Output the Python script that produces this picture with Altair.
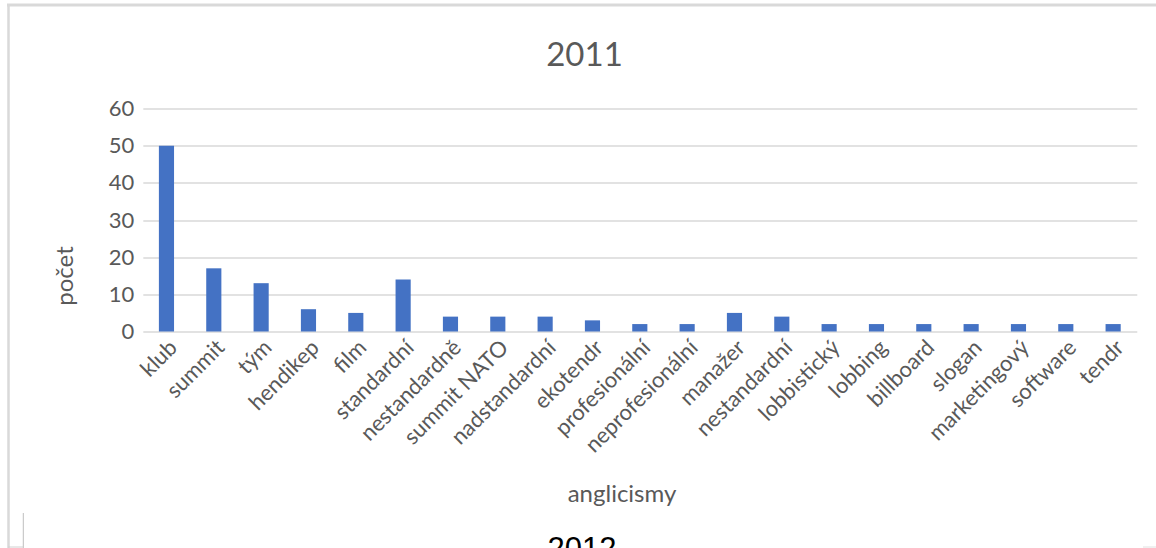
import altair as alt
import pandas as pd

# Word counts for 2011
words = [
    "klub", "summit", "tým", "hendikep", "film", "standardní", "nestandardně",
    "summit NATO", "nadstandardní", "ekotendr", "profesionální", "neprofesionální",
    "manažer", "nestandardní", "lobbistický", "lobbing", "billboard", "slogan",
    "marketingový", "software", "tendr",
]
counts = [50, 17, 13, 6, 5, 14, 4, 4, 4, 3, 2, 2, 5, 4, 2, 2, 2, 2, 2, 2, 2]
y_ticks = [0, 10, 20, 30, 40, 50, 60]

chart_title = "2011"
next_title = "2012"
x_title = "anglicismy"
y_title = "počet"

TEXT = "#595959"
GRID = "#d9d9d9"
BAR = "#4472c4"
FONT = "Lato"

PAD_L, PAD_T = 142.8, 108.5
PLOT_W, PLOT_H = 994, 223

df = pd.DataFrame({"word": words, "n": counts})

bars = alt.Chart(df).mark_bar(color=BAR).encode(
    x=alt.X(
        "word:N",
        sort=None,
        scale=alt.Scale(paddingInner=0.68, paddingOuter=0.34),
        axis=alt.Axis(
            title=None, labelAngle=315, labelFont=FONT, labelFontSize=22,
            labelColor=TEXT, ticks=False, domain=False, labelOverlap=False,
            labelPadding=5, labelLimit=300,
        ),
    ),
    y=alt.Y(
        "n:Q",
        scale=alt.Scale(domain=[0, 60], nice=False),
        axis=alt.Axis(
            title=None, values=y_ticks, grid=True, gridColor=GRID, gridWidth=1.5,
            domain=False, ticks=False, labelPadding=9, labelFont=FONT,
            labelFontSize=22, labelColor=TEXT,
        ),
    ),
)


def label(text, x, y, size, color=TEXT, font=FONT, angle=0, baseline="alphabetic"):
    return alt.Chart(pd.DataFrame({"t": [text]})).mark_text(
        font=font, fontSize=size, color=color, angle=angle,
        align="center", baseline=baseline,
    ).encode(x=alt.value(x), y=alt.value(y), text="t:N")


def rule(x, x2, y, y2, width, color):
    return alt.Chart(pd.DataFrame({"k": [0]})).mark_rule(
        color=color, strokeWidth=width
    ).encode(x=alt.value(x), x2=alt.value(x2), y=alt.value(y), y2=alt.value(y2))


texts = [
    label(chart_title, 584.5 - PAD_L, 65.7 - PAD_T, 33),
    label(x_title, 622 - PAD_L, 502 - PAD_T, 24),
    label(y_title, 66 - PAD_L, 276 - PAD_T, 24, angle=270, baseline="middle"),
    label(next_title, 582 - PAD_L, 559 - PAD_T, 31, color="#000000",
          font="Liberation Sans"),
]

frame = [
    rule(7 - PAD_L, 1156 - PAD_L, 5 - PAD_T, 5 - PAD_T, 3, GRID),
    rule(8.5 - PAD_L, 8.5 - PAD_L, 5 - PAD_T, 548 - PAD_T, 2.5, GRID),
    rule(23.3 - PAD_L, 23.3 - PAD_L, 513 - PAD_T, 548 - PAD_T, 1, "#bfbfbf"),
    rule(8 - PAD_L, 23.3 - PAD_L, 547 - PAD_T, 547 - PAD_T, 1, "#d0d0d0"),
    rule(1143 - PAD_L, 1156 - PAD_L, 547 - PAD_T, 547 - PAD_T, 1, "#e0e0e0"),
]

chart = alt.layer(bars, *texts, *frame).properties(
    width=PLOT_W,
    height=PLOT_H,
    autosize=alt.AutoSizeParams(type="none"),
    padding={"left": PAD_L, "top": PAD_T, "right": 1156 - PAD_L - PLOT_W,
             "bottom": 548 - PAD_T - PLOT_H},
    background="white",
).configure_view(stroke=None)

chart.save("out.html", embed_options={"renderer": "svg", "actions": False})
